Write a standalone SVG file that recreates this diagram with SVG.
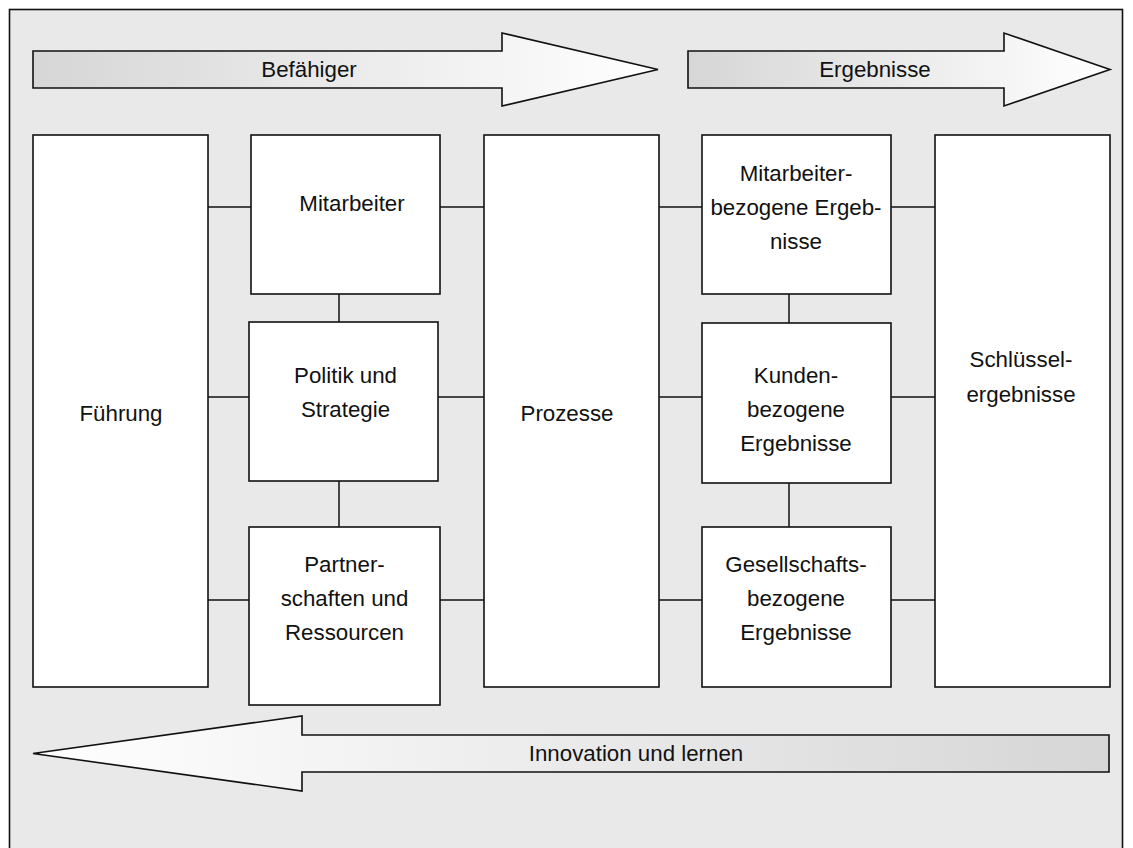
<svg xmlns="http://www.w3.org/2000/svg" width="1133" height="848" viewBox="0 0 1133 848">
<defs>
<linearGradient id="gr" x1="0" y1="0" x2="1" y2="0">
<stop offset="0" stop-color="#d6d6d6"/><stop offset="1" stop-color="#ffffff"/>
</linearGradient>
<linearGradient id="gl" x1="1" y1="0" x2="0" y2="0">
<stop offset="0" stop-color="#d6d6d6"/><stop offset="1" stop-color="#ffffff"/>
</linearGradient>
<style>
.box{fill:#fff;stroke:#111;stroke-width:1.6}
.ar{stroke:#111;stroke-width:1.6;stroke-linejoin:miter}
.c{stroke:#111;stroke-width:1.5;fill:none}
text{font-family:"Liberation Sans",Arial,Helvetica,sans-serif;font-size:22.3px;fill:#111;text-anchor:middle}
</style>
</defs>
<rect x="0" y="0" width="1133" height="848" fill="#fff"/>
<rect x="9.5" y="9.5" width="1113" height="860" fill="#e9e9e9" stroke="#111" stroke-width="1.6"/>

<g id="arrow-befaehiger">
<polygon class="ar" fill="url(#gr)" points="33,51 502,51 502,33 658,69.5 502,106 502,88 33,88"/>
<text x="309" y="77">Befähiger</text>
</g>
<g id="arrow-ergebnisse">
<polygon class="ar" fill="url(#gr)" points="688,51 1004,51 1004,33 1110,69.5 1004,106 1004,88 688,88"/>
<text x="875" y="77">Ergebnisse</text>
</g>
<g id="arrow-innovation">
<polygon class="ar" fill="url(#gl)" points="1109,735 302,735 302,716 33,753.5 302,791 302,772 1109,772"/>
<text x="636" y="761">Innovation und lernen</text>
</g>

<g id="connectors">
<line class="c" x1="208" y1="207" x2="251" y2="207"/>
<line class="c" x1="440" y1="207" x2="484" y2="207"/>
<line class="c" x1="659" y1="207" x2="702" y2="207"/>
<line class="c" x1="891" y1="207" x2="935" y2="207"/>
<line class="c" x1="208" y1="397" x2="249" y2="397"/>
<line class="c" x1="438" y1="397" x2="484" y2="397"/>
<line class="c" x1="659" y1="397" x2="702" y2="397"/>
<line class="c" x1="891" y1="397" x2="935" y2="397"/>
<line class="c" x1="208" y1="600" x2="249" y2="600"/>
<line class="c" x1="440" y1="600" x2="484" y2="600"/>
<line class="c" x1="659" y1="600" x2="702" y2="600"/>
<line class="c" x1="891" y1="600" x2="935" y2="600"/>
<line class="c" x1="339" y1="294" x2="339" y2="322"/>
<line class="c" x1="339" y1="481" x2="339" y2="527"/>
<line class="c" x1="789" y1="294" x2="789" y2="323"/>
<line class="c" x1="789" y1="483" x2="789" y2="527"/>
</g>

<g id="fuehrung">
<rect class="box" x="33" y="135" width="175" height="552"/>
<text x="121" y="421">Führung</text>
</g>
<g id="mitarbeiter">
<rect class="box" x="251" y="135" width="189" height="159"/>
<text x="352" y="211">Mitarbeiter</text>
</g>
<g id="politik">
<rect class="box" x="249" y="322" width="189" height="159"/>
<text x="345.5" y="383">Politik und</text>
<text x="345.5" y="417">Strategie</text>
</g>
<g id="partner">
<rect class="box" x="249" y="527" width="191" height="178"/>
<text x="344.5" y="572">Partner-</text>
<text x="344.5" y="606">schaften und</text>
<text x="344.5" y="640">Ressourcen</text>
</g>
<g id="prozesse">
<rect class="box" x="484" y="135" width="175" height="552"/>
<text x="567" y="421">Prozesse</text>
</g>
<g id="mitarbeiter-ergebnisse">
<rect class="box" x="702" y="135" width="189" height="159"/>
<text x="796" y="181">Mitarbeiter-</text>
<text x="796" y="215">bezogene Ergeb-</text>
<text x="796" y="249">nisse</text>
</g>
<g id="kunden-ergebnisse">
<rect class="box" x="702" y="323" width="189" height="160"/>
<text x="796" y="383">Kunden-</text>
<text x="796" y="417">bezogene</text>
<text x="796" y="451">Ergebnisse</text>
</g>
<g id="gesellschaft-ergebnisse">
<rect class="box" x="702" y="527" width="189" height="160"/>
<text x="796" y="572">Gesellschafts-</text>
<text x="796" y="606">bezogene</text>
<text x="796" y="640">Ergebnisse</text>
</g>
<g id="schluessel">
<rect class="box" x="935" y="135" width="175" height="552"/>
<text x="1021" y="367">Schlüssel-</text>
<text x="1021" y="402">ergebnisse</text>
</g>
</svg>
